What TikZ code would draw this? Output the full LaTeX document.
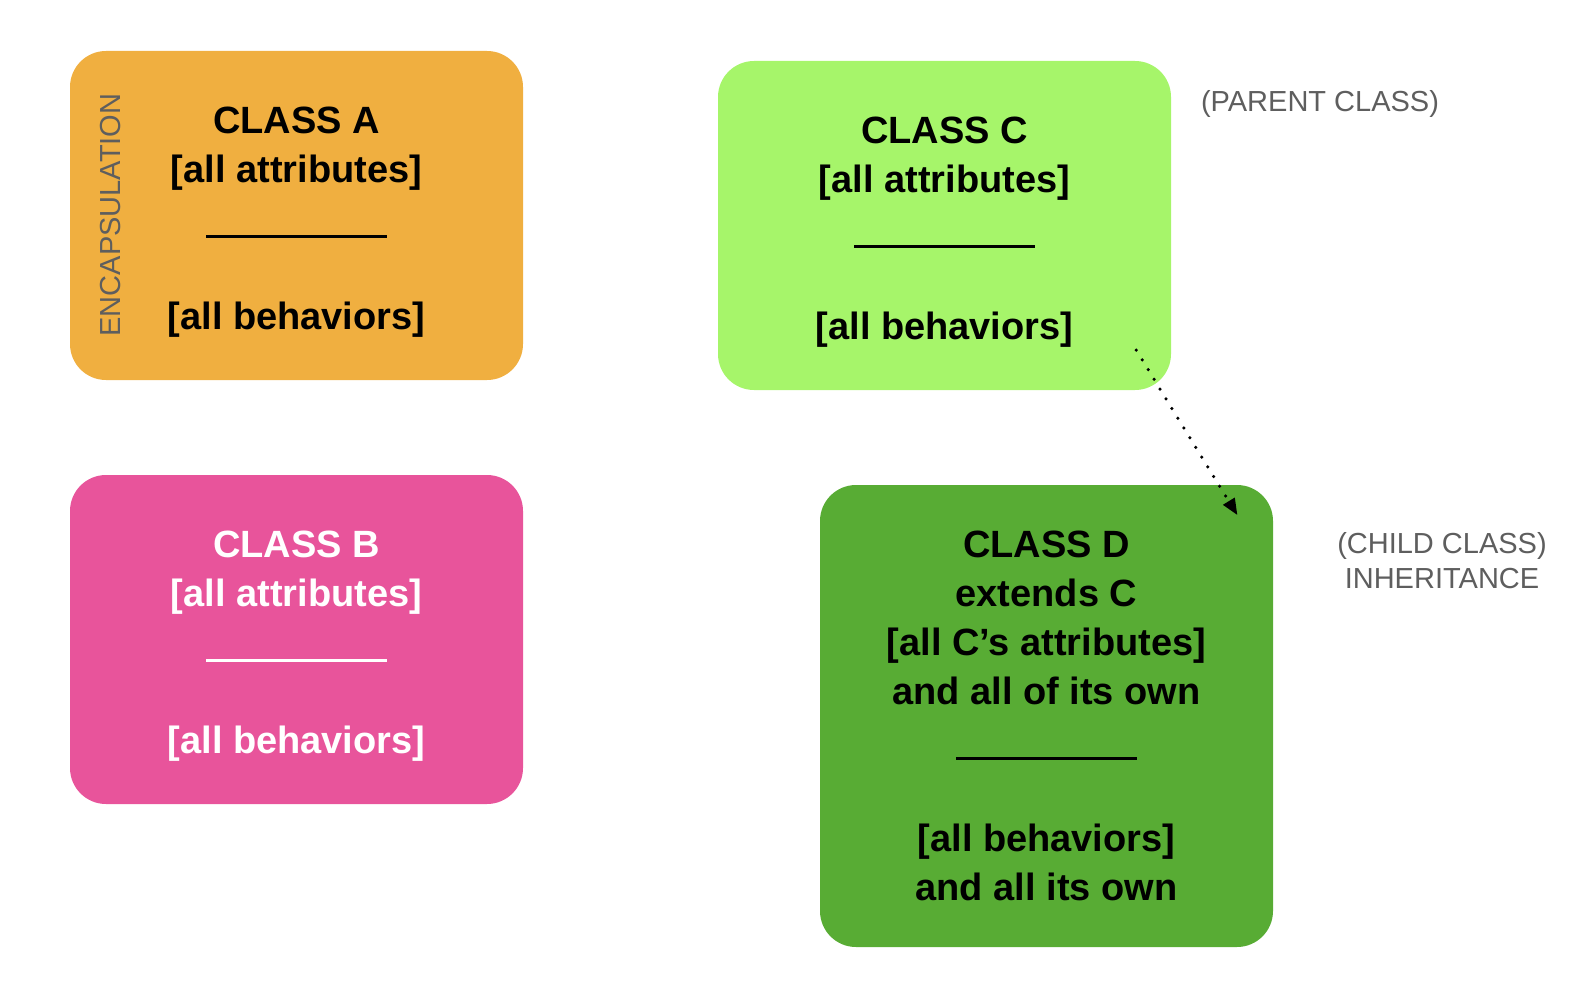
\documentclass[tikz,border=0pt]{standalone}
\usepackage{fontspec}
\setmainfont{Liberation Sans}
\usepackage{xcolor}
\usetikzlibrary{arrows.meta,calc}
\definecolor{clsorange}{RGB}{240,175,64}
\definecolor{clspink}{RGB}{232,84,155}
\definecolor{clslime}{RGB}{166,245,106}
\definecolor{clsgreen}{RGB}{88,172,52}
\definecolor{notegray}{RGB}{94,94,94}
\newcommand{\divider}{\rule[-6pt]{181pt}{2.5pt}}
\newcommand{\toprow}[1]{\raisebox{0pt}[40pt]{#1}}

\begin{document}
\begin{tikzpicture}[x=1pt,y=-1pt,
  cls/.style={rounded corners=36pt,minimum width=453pt,minimum height=329pt,
    inner sep=0pt,align=center,font=\bfseries\fontsize{38}{49}\selectfont},
  note/.style={text=notegray,align=center,font=\fontsize{29}{35}\selectfont},
  inherit/.style={-{Triangle[length=16pt,width=14pt,line width=0pt]},line width=3.5pt,
    line cap=round,dash pattern=on 0pt off 11.4pt}
]
\useasboundingbox (0,0) rectangle (1592,984);
\node[cls,fill=clsorange] (a) at (296.5,215.5) {\toprow{CLASS A}\\{[all attributes]}\\\divider\\[49pt]{[all behaviors]}};
\node[cls,fill=clspink,text=white] (b) at (296.5,639.5) {\toprow{CLASS B}\\{[all attributes]}\\\divider\\[49pt]{[all behaviors]}};
\node[cls,fill=clslime] (c) at (944.5,225.5) {\toprow{CLASS C}\\{[all attributes]}\\\divider\\[49pt]{[all behaviors]}};
\node[cls,fill=clsgreen,minimum height=462pt] (d) at (1046.5,716) {CLASS D\\extends C\\{[all C’s attributes]}\\and all of its own\\\divider\\[49pt]{[all behaviors]}\\and all its own};
\node[note,rotate=90] (encap) at (111,215) {ENCAPSULATION};
\node[note] (parent) at (1320,104) {(PARENT CLASS)};
\node[note] (child) at (1442,561) {(CHILD CLASS)\\INHERITANCE};
\draw[inherit] ($(c.south east)+(-35,-40)$) -- ($(d.north east)+(-36,30)$);
\end{tikzpicture}
\end{document}
